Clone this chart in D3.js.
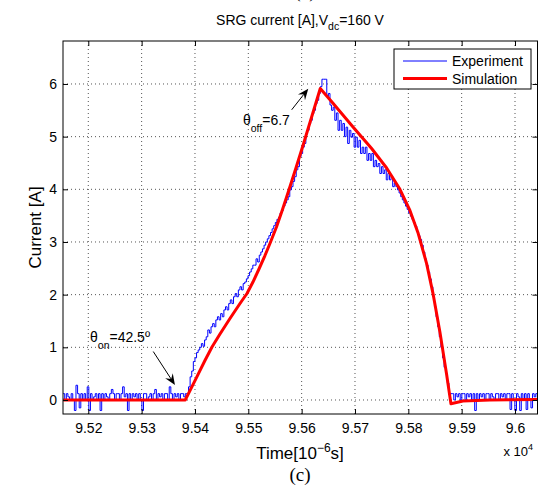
<!DOCTYPE html>
<html>
<head>
<meta charset="utf-8">
<script src="https://cdn.jsdelivr.net/npm/d3@7"></script>
<style>
  body { margin: 0; background: #fff; }
  text { font-family: "Liberation Sans", Arial, sans-serif; fill: #000; }
  .serif { font-family: "Liberation Serif", "Times New Roman", serif; }
</style>
</head>
<body>
<div id="chart"></div>
<script>
// values (time in units of 10^4 µs)
var xTicks = [9.52, 9.53, 9.54, 9.55, 9.56, 9.57, 9.58, 9.59, 9.60];
var xTickLabels = ["9.52", "9.53", "9.54", "9.55", "9.56", "9.57", "9.58", "9.59", "9.6"];
var yTicks = [0, 1, 2, 3, 4, 5, 6];

// experiment: sampled trace, one value every expDt
var expT0 = 9.51528;
var expDt = 0.0003014;
var expBefore = [0.12,0,0.12,0.06,0,0.12,0,-0.2,0.28,0.12,
  -0.15,0.12,0,0.12,0,0.25,-0.2,0.12,0,0.06,
  0.12,0,0.12,-0.2,0.12,0,0.12,0.06,0,0.12,
  0.2,0.12,0,0.12,0.12,0,0.12,0.25,0.06,0.12,
  -0.2,0.12,0,0.12,0.06,0.12,0,0.12,0,-0.2,
  0.12,0.12,0,0.06,0.12,0,0.12,0.2,0,0.12,
  0.06,0.12,0,0.12,0.12,0,0.25,0.12,0,0.12,
  0.06,0.12,0,0.12,0.12,0.06];
var expRise = [0.12,0.12,0.25,0.44,0.55,0.73,0.8,0.9,0.95,1.0,
  1.07,1.02,1.14,1.2,1.33,1.27,1.39,1.45,1.39,1.52,
  1.58,1.52,1.64,1.58,1.71,1.77,1.71,1.83,1.9,1.83,
  1.96,2.02,1.96,2.09,2.15,2.09,2.21,2.24,2.3,2.36,
  2.43,2.49,2.56,2.56,2.68,2.62,2.75,2.81,2.87,2.94,
  3.0,3.06,3.12,3.18,3.25,3.31,3.37,3.43,3.47,3.55,
  3.6,3.68,3.74,3.8,3.86,3.99,4.05,4.15,4.24,4.37,
  4.43,4.62,4.68,4.8,4.87,5.06,5.12,5.25,5.31,5.44,
  5.5,5.63,5.69,5.82,5.95];
var expDecay = [6.09,6.09,6.09,5.76,5.82,5.6,5.5,5.56,5.31,5.45,
  5.12,5.31,5.12,5.25,5.0,5.18,4.87,5.12,4.99,5.06,
  4.8,4.99,4.8,4.93,4.68,4.8,4.68,4.8,4.55,4.68,
  4.55,4.68,4.43,4.55,4.43,4.49,4.3,4.43,4.3,4.37,
  4.18,4.3,4.18,4.24,4.05,4.12,4.05,3.99,3.93,3.86,
  3.8,3.74,3.68,3.62,3.55,3.49,3.43,3.37,3.3,3.2,
  3.12,3.05,2.94,2.81,2.68,2.56,2.43,2.3,2.15,1.96,
  1.77,1.58,1.39,1.2,1.0,0.8,0.62,0.5,0.32,0.1,
  0.12];
var expAfter = [0.12,0,0.12,0.06,0.12,0,0.12,0.12,0,0.12,
  0.06,0.12,0,0.12,-0.2,0.12,0,0.12,0.06,0.12,
  0,0.12,0.12,0,0.12,0.06,0,0.12,0.12,0,
  0.12,0.06,0.12,0,0.12,0.12,-0.18,0.12,0,-0.2,
  0.12,0.06,-0.2,0.12,0,0.12,-0.18,0.12,0,-0.15,
  0.12,0.06,0.12,0];

// simulation
var simTime = [9.5153, 9.53818, 9.54019, 9.54187, 9.54319, 9.54469, 9.54656, 9.54844, 9.54975, 9.55087,
  9.55200, 9.55312, 9.55417, 9.55528, 9.55638, 9.55758, 9.55893, 9.56028, 9.56349,
  9.56592, 9.56967, 9.57312, 9.57593, 9.57843, 9.58030, 9.58186, 9.58343, 9.58467,
  9.58592, 9.58718, 9.58799, 9.59024, 9.5953, 9.6042];
var simCurrent = [0, 0, 0.406, 0.75, 1.006, 1.253, 1.547, 1.832, 2.022, 2.24,
  2.487, 2.743, 3.0, 3.285, 3.607, 3.978, 4.405, 4.841, 5.914,
  5.63, 5.18, 4.775, 4.405, 4.0, 3.6, 3.16, 2.59, 2.0,
  1.29, 0.486, -0.07, -0.02, 0.0, 0.01];

var seriesNames = ["Experiment", "Simulation"];
var seriesColors = ["#0000ff", "#ff0000"];

// Set up the chart
var svg_width = 551, svg_height = 489;
var box = { left: 63, right: 537.5, top: 41, bottom: 414 };

var svg = d3.select("#chart").append("svg")
  .attr("width", svg_width)
  .attr("height", svg_height);

var x = d3.scaleLinear().domain([9.515258, 9.604217]).range([box.left, box.right]);
var y = d3.scaleLinear().domain([-0.266, 6.816]).range([box.bottom, box.top]);

var expCurrent = expBefore.concat(expRise, expDecay, expAfter);
var expData = expCurrent.map(function(v, i) { return { t: expT0 + i * expDt, v: v }; });
var simData = simTime.map(function(t, i) { return { t: t, v: simCurrent[i] }; });

// grid
var grid = svg.append("g");
grid.selectAll(".gx").data(xTicks).enter().append("line")
  .attr("x1", d => x(d)).attr("x2", d => x(d))
  .attr("y1", box.top).attr("y2", box.bottom);
grid.selectAll(".gy").data(yTicks).enter().append("line")
  .attr("x1", box.left).attr("x2", box.right)
  .attr("y1", d => y(d)).attr("y2", d => y(d));
grid.selectAll("line")
  .attr("stroke", "#555")
  .attr("stroke-width", 1)
  .attr("stroke-dasharray", "1,3");

// data
svg.append("clipPath").attr("id", "clip").append("rect")
  .attr("x", box.left).attr("y", box.top)
  .attr("width", box.right - box.left).attr("height", box.bottom - box.top);

var expLine = d3.line().curve(d3.curveStepAfter).x(d => x(d.t)).y(d => y(d.v));
var simLine = d3.line().x(d => x(d.t)).y(d => y(d.v));
var plot = svg.append("g").attr("clip-path", "url(#clip)");
plot.append("path").datum(expData)
  .attr("d", expLine).attr("fill", "none")
  .attr("stroke", seriesColors[0]).attr("stroke-width", 1);
plot.append("path").datum(simData)
  .attr("d", simLine).attr("fill", "none")
  .attr("stroke", seriesColors[1]).attr("stroke-width", 3)
  .attr("stroke-linejoin", "round");

// axes, ticks pointing inward
var bottomAxis = d3.axisBottom(x).tickValues(xTicks)
  .tickFormat((d, i) => xTickLabels[i]).tickSize(-5).tickSizeOuter(0).tickPadding(9);
var leftAxis = d3.axisLeft(y).tickValues(yTicks)
  .tickFormat(d3.format("d")).tickSize(-5).tickSizeOuter(0).tickPadding(6);
var topAxis = d3.axisTop(x).tickValues(xTicks).tickFormat("").tickSize(-5).tickSizeOuter(0);
var rightAxis = d3.axisRight(y).tickValues(yTicks).tickFormat("").tickSize(-5).tickSizeOuter(0);

function styleAxis(g) {
  g.select(".domain").remove();
  g.selectAll("line").attr("stroke", "#000");
  g.selectAll("text").style("font-size", "14px")
    .style("font-family", "'Liberation Sans', Arial, sans-serif").attr("fill", "#000");
}
svg.append("g").attr("transform", `translate(0, ${box.bottom})`).call(bottomAxis).call(styleAxis);
svg.append("g").attr("transform", `translate(${box.left}, 0)`).call(leftAxis).call(styleAxis);
svg.append("g").attr("transform", `translate(0, ${box.top})`).call(topAxis).call(styleAxis);
svg.append("g").attr("transform", `translate(${box.right}, 0)`).call(rightAxis).call(styleAxis);

svg.append("rect")
  .attr("x", box.left).attr("y", box.top)
  .attr("width", box.right - box.left).attr("height", box.bottom - box.top)
  .attr("fill", "none").attr("stroke", "#000").attr("stroke-width", 1);

// annotations
function arrow(x1, y1, x2, y2) {
  var ang = Math.atan2(y2 - y1, x2 - x1);
  var L = 11, W = 4.5, N = 7;
  var bx = x2 - L * Math.cos(ang), by = y2 - L * Math.sin(ang);
  var nx = x2 - N * Math.cos(ang), ny = y2 - N * Math.sin(ang);
  var px = -Math.sin(ang), py = Math.cos(ang);
  svg.append("line").attr("x1", x1).attr("y1", y1).attr("x2", nx).attr("y2", ny)
    .attr("stroke", "#000").attr("stroke-width", 1);
  svg.append("path")
    .attr("d", `M${x2},${y2}L${bx + W * px},${by + W * py}L${nx},${ny}L${bx - W * px},${by - W * py}Z`)
    .attr("fill", "#000");
}
arrow(x(9.55813), y(5.51), x(9.56124), y(5.91));
arrow(x(9.53218), y(0.92), x(9.53625), y(0.285));

var offLabel = svg.append("text").attr("x", x(9.5490)).attr("y", y(5.23)).style("font-size", "14px");
offLabel.append("tspan").text("θ");
offLabel.append("tspan").attr("dy", 7).style("font-size", "10.5px").text("off");
offLabel.append("tspan").attr("dy", -7).text("=6.7");

var onLabel = svg.append("text").attr("x", x(9.52032)).attr("y", y(1.1)).style("font-size", "14px");
onLabel.append("tspan").text("θ");
onLabel.append("tspan").attr("dy", 7).style("font-size", "10.5px").text("on");
onLabel.append("tspan").attr("dy", -7).text("=42.5º");

// legend
var lg = svg.append("g");
lg.append("rect").attr("x", 394).attr("y", 49).attr("width", 137).attr("height", 40)
  .attr("fill", "#fff").attr("stroke", "#000").attr("stroke-width", 1);
seriesNames.forEach(function(name, i) {
  var ly = 61 + i * 17.5;
  lg.append("line").attr("x1", 403).attr("x2", 447).attr("y1", ly).attr("y2", ly)
    .attr("stroke", seriesColors[i]).attr("stroke-width", i === 0 ? 1 : 3);
  lg.append("text").attr("x", 452).attr("y", ly + 5).style("font-size", "14px").text(name);
});

// titles and labels
var title = svg.append("text").attr("x", 300).attr("y", 25)
  .attr("text-anchor", "middle").style("font-size", "14px");
title.append("tspan").text("SRG current [A],V");
title.append("tspan").attr("dy", 5).style("font-size", "10.5px").text("dc");
title.append("tspan").attr("dy", -5).text("=160 V");

svg.append("text").attr("class", "serif").attr("x", 305).attr("y", -2)
  .attr("text-anchor", "middle").style("font-size", "17px").text("(b)");

var xl = svg.append("text").attr("x", 300).attr("y", 459)
  .attr("text-anchor", "middle").style("font-size", "17px");
xl.append("tspan").text("Time[10");
xl.append("tspan").attr("dy", -7).style("font-size", "12px").text("−6");
xl.append("tspan").attr("dy", 7).text("s]");

var ex = svg.append("text").attr("x", 533).attr("y", 456)
  .attr("text-anchor", "end").style("font-size", "13px");
ex.append("tspan").text("x 10");
ex.append("tspan").attr("dy", -6).style("font-size", "9px").text("4");

svg.append("text")
  .attr("transform", `translate(41, ${(box.top + box.bottom) / 2}) rotate(-90)`)
  .attr("text-anchor", "middle").style("font-size", "17px").text("Current [A]");

svg.append("text").attr("class", "serif").attr("x", 300).attr("y", 481)
  .attr("text-anchor", "middle").style("font-size", "19px").text("(c)");
</script>
</body>
</html>
